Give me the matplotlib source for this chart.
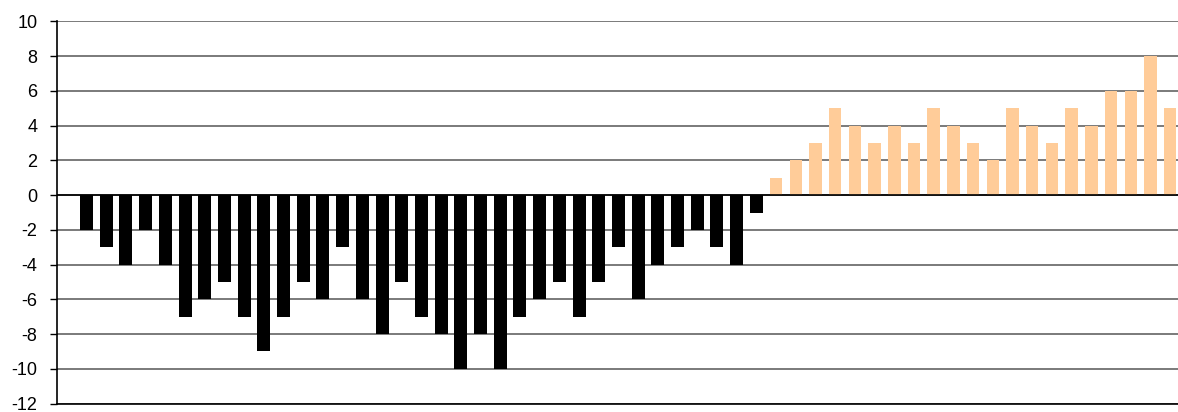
import matplotlib.pyplot as plt

neg_values = [-2, -3, -4, -2, -4, -7, -6, -5, -7, -9, -7, -5, -6, -3, -6, -8, -5, -7,
              -8, -10, -8, -10, -7, -6, -5, -7, -5, -3, -6, -4, -3, -2, -3, -4, -1]
pos_values = [1, 2, 3, 5, 4, 3, 4, 3, 5, 4, 3, 2, 5, 4, 3, 5, 4, 6, 6, 8, 5]
y_ticks = list(range(-12, 11, 2))

plt.rcParams['font.family'] = ['Liberation Sans', 'DejaVu Sans']

fig = plt.figure(figsize=(11.78, 4.12), dpi=100)
ax = fig.add_axes([57 / 1178, 8.5 / 412, 1 - 57 / 1178, (403.5 - 21.5) / 412])

x_neg = list(range(len(neg_values)))
x_pos = list(range(len(neg_values), len(neg_values) + len(pos_values)))
ax.bar(x_neg, neg_values, width=0.66, color='black', zorder=3)
ax.bar(x_pos, pos_values, width=0.63, color='#FFCC99', zorder=3)

ax.set_ylim(-12, 10)
ax.set_xlim(-1.5, 55.4)
ax.set_yticks(y_ticks)
ax.set_yticklabels([str(t) for t in y_ticks], fontsize=13)
ax.set_xticks([])
ax.tick_params(axis='y', length=5, width=1, color='black', pad=9)

ax.yaxis.grid(True, color='#707070', linewidth=1.3, zorder=0)
ax.axhline(0, color='black', linewidth=1.2, zorder=4)
for s in ['top', 'right']:
    ax.spines[s].set_visible(False)
ax.spines['left'].set_color('black')
ax.spines['bottom'].set_color('black')
ax.spines['left'].set_linewidth(1.2)
ax.spines['bottom'].set_linewidth(1.2)

fig.savefig('out.png', dpi=100)
